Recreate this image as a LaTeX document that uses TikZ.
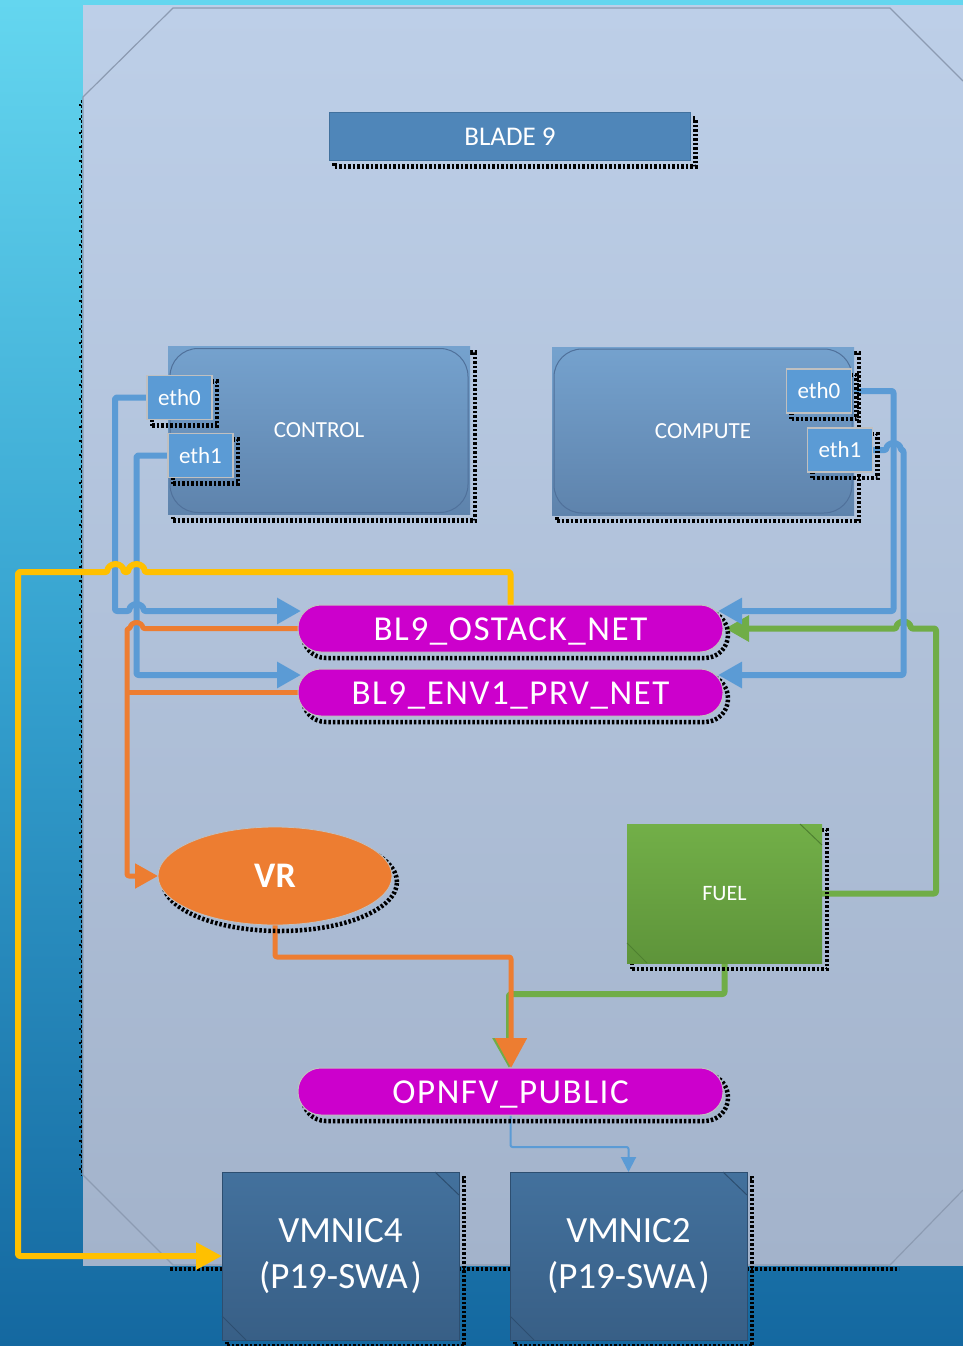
\documentclass[tikz,border=0pt]{standalone}
\usepackage{fontspec}
\setmainfont{Carlito}
\usetikzlibrary{arrows.meta,shadows,shapes.geometric}
\pgfdeclarelayer{bg}
\pgfdeclarelayer{fg}
\pgfsetlayers{bg,main,fg}
\definecolor{skytop}{RGB}{100,214,239}
\definecolor{skymid}{RGB}{52,160,206}
\definecolor{skybot}{RGB}{20,104,160}
\definecolor{paneltop}{RGB}{189,207,232}
\definecolor{panelbot}{RGB}{163,179,203}
\definecolor{panelrim}{RGB}{140,155,178}
\definecolor{bladeblue}{RGB}{79,134,185}
\definecolor{bladerim}{RGB}{65,113,158}
\definecolor{hostA}{RGB}{117,162,206}
\definecolor{hostB}{RGB}{94,131,172}
\definecolor{hostrim}{RGB}{80,113,155}
\definecolor{nicblue}{RGB}{91,155,213}
\definecolor{nicrim}{RGB}{192,192,192}
\definecolor{netmag}{RGB}{204,0,204}
\definecolor{vrorange}{RGB}{237,125,49}
\definecolor{fuelA}{RGB}{114,175,72}
\definecolor{fuelB}{RGB}{94,148,58}
\definecolor{fuelrim}{RGB}{78,128,48}
\definecolor{vmA}{RGB}{67,113,157}
\definecolor{vmB}{RGB}{56,95,134}
\definecolor{vmrim}{RGB}{45,78,112}
\definecolor{linkblue}{RGB}{91,155,213}
\definecolor{linkgreen}{RGB}{112,173,71}
\definecolor{linkyellow}{RGB}{255,192,0}
\tikzset{
  jag/.style={general shadow={shadow xshift=5pt,shadow yshift=-6pt,draw=black,fill=none,line width=4.5pt,dash pattern=on 2.5pt off 2pt}},
  box/.style={inner sep=0pt,outer sep=0pt,text=white,align=center},
  bladebox/.style={box,jag,fill=bladeblue,draw=bladerim,line width=0.8pt,minimum width=361pt,minimum height=48pt,font=\fontsize{27}{30}\selectfont},
  hostbox/.style={box,jag,top color=hostA,bottom color=hostB,minimum width=302pt,minimum height=168pt,font=\fontsize{23}{27}\selectfont},
  hostrimline/.style={draw=hostrim,line width=1pt,rounded corners=28pt},
  nicbox/.style={box,jag,fill=nicblue,draw=nicrim,line width=1.2pt,minimum width=65pt,minimum height=44pt,font=\fontsize{23}{27}\selectfont},
  netbox/.style={box,jag,fill=netmag,draw=nicrim,line width=1pt,rounded corners=23pt,minimum width=425pt,minimum height=47pt,text height=23pt,text depth=0pt,font=\fontsize{35}{40}\selectfont\addfontfeature{LetterSpace=4.5}},
  vrbox/.style={box,jag,ellipse,fill=vrorange,draw=nicrim,line width=0.8pt,minimum width=234pt,minimum height=98pt,font=\fontsize{36}{40}\selectfont\bfseries},
  fuelbox/.style={box,jag,top color=fuelA,bottom color=fuelB,minimum width=195pt,minimum height=139pt,font=\fontsize{22}{26}\selectfont},
  vmbox/.style={box,jag,top color=vmA,bottom color=vmB,draw=vmrim,line width=0.8pt,minimum width=237pt,minimum height=168pt,font=\fontsize{37}{46}\selectfont},
  snip/.style={line width=1pt},
  link/.style={line join=round,rounded corners=2pt},
  bluelink/.style={link,draw=linkblue,line width=6pt},
  orangelink/.style={link,draw=vrorange,line width=5pt},
  greenlink/.style={link,draw=linkgreen,line width=6pt},
  yellowlink/.style={link,draw=linkyellow,line width=6pt},
  thinlink/.style={link,draw=linkblue,line width=2pt},
  tipB/.style={-{Triangle[length=24pt,width=25pt]}},
  tipO/.style={-{Triangle[length=23pt,width=24pt]}},
  tipObig/.style={-{Triangle[length=30pt,width=31pt]}},
  tipGbig/.style={-{Triangle[length=30pt,width=32pt]}},
  tipY/.style={-{Triangle[length=26pt,width=26pt]}},
  tipT/.style={-{Triangle[length=15pt,width=15pt]}},
}
\begin{document}
\begin{tikzpicture}[x=1pt,y=-1pt]
\useasboundingbox (0,0) rectangle (963,1346);
% backdrop and blade panel
\begin{pgfonlayer}{bg}
  \shade[top color=skytop,bottom color=skybot,middle color=skymid] (0,0) rectangle (963,1346);
  \draw[black,line width=1pt,dash pattern=on 3pt off 2pt] (81.5,100) -- (81.5,1176);
  \draw[black,line width=2pt,dash pattern=on 2pt off 12pt] (79.5,104) -- (79.5,1176);
  \draw[black,line width=4pt,dash pattern=on 2.5pt off 2pt] (170,1269) -- (899,1269);
  \shade[top color=paneltop,bottom color=panelbot] (83,6) rectangle (963,1265);
  \draw[panelrim,line width=1.2pt] (963,81) -- (890,8) -- (173,8) -- (83,97) -- (83,1175) -- (173,1265) -- (890,1265) -- (963,1190);
\end{pgfonlayer}
% boxes
\begin{pgfonlayer}{fg}
  \node[bladebox] (blade) at (510,136.5) {BLADE 9};
  \node[hostbox] (control) at (319,430.5) {\raisebox{-2pt}{CONTROL}};
  \draw[hostrimline] ([shift={(2pt,-2pt)}]control.north west) rectangle ([shift={(-2pt,2pt)}]control.south east);
  \node[nicbox] (ceth0) at (179.5,397.5) {eth0};
  \node[nicbox] (ceth1) at (200.5,455.5) {eth1};
  \node[hostbox] (compute) at (703,431) {\raisebox{-2pt}{COMPUTE}};
  \draw[hostrimline] ([shift={(2pt,-2pt)}]compute.north west) rectangle ([shift={(-2pt,2pt)}]compute.south east);
  \node[nicbox] (peth0) at (819,391) {eth0};
  \node[nicbox] (peth1) at (840,450) {eth1};
  \node[netbox] (ostack) at (510.5,628.5) {BL9\_OSTACK\_NET};
  \node[netbox] (env1) at (510.5,692.5) {BL9\_ENV1\_PRV\_NET};
  \node[vrbox] (vr) at (275,876) {VR};
  \node[fuelbox] (fuel) at (724.5,893.5) {\raisebox{-4pt}{FUEL}};
  \draw[snip,draw=fuelrim] ([xshift=-22pt]fuel.north east) -- ([yshift=-21pt]fuel.north east);
  \draw[snip,draw=fuelrim] ([yshift=20pt]fuel.south west) -- ([xshift=20pt]fuel.south west);
  \node[netbox] (opnfv) at (510.5,1091.5) {OPNFV\_PUBLIC};
  \node[vmbox] (vmnic4) at (340.5,1256) {VMNIC4\\(P19-SWA\kern3pt)};
  \draw[snip,draw=vmrim] ([xshift=-24pt]vmnic4.north east) -- ([yshift=-23pt]vmnic4.north east);
  \draw[snip,draw=vmrim] ([yshift=24pt]vmnic4.south west) -- ([xshift=24pt]vmnic4.south west);
  \node[vmbox] (vmnic2) at (628.5,1256) {VMNIC2\\(P19-SWA\kern3pt)};
  \draw[snip,draw=vmrim] ([xshift=-24pt]vmnic2.north east) -- ([yshift=-23pt]vmnic2.north east);
  \draw[snip,draw=vmrim] ([yshift=24pt]vmnic2.south west) -- ([xshift=24pt]vmnic2.south west);
\end{pgfonlayer}
% bend points
\coordinate (obend) at (511,957);
\coordinate (gbend) at (509,994);
\coordinate (pbend) at (628.5,1147);
% green links from FUEL
\draw[greenlink,tipGbig] (fuel.south) |- (gbend) -- (gbend |- opnfv.north);
\draw[greenlink,tipB] (fuel.east) -- (936,893.5) -- (936,628.5) -- (910.5,628.5)
  arc[start angle=0,end angle=180,radius=7pt] -- ([xshift=2pt]ostack.east);
% blue links from the host NICs
\draw[bluelink,tipB] (ceth0.west) -| (115,611) -- (129.5,611)
  arc[start angle=180,end angle=0,radius=7pt] -- ([shift={(3pt,17.5pt)}]ostack.west);
\draw[bluelink,tipB] (ceth1.west) -| (136.5,675) -- ([shift={(3pt,17.5pt)}]env1.west);
\draw[bluelink,tipB] (peth0.east) -| (893.5,611) -- ([shift={(-5pt,17.5pt)}]ostack.east);
\draw[bluelink,tipB] (peth1.east) -- (886.5,450)
  arc[start angle=180,end angle=0,radius=7pt] -- (903.5,450) -- (903.5,675) -- ([shift={(-5pt,17.5pt)}]env1.east);
% orange links through VR
\draw[orangelink,tipO] (ostack.west) -- (142.5,628.5)
  arc[start angle=0,end angle=180,radius=6pt] -- (127,628.5) -- (127,876) -- (vr.west);
\draw[orangelink] (env1.west) -- ++(-171,0);
\draw[orangelink,tipObig] (vr.south) |- (obend) -- (obend |- opnfv.north);
% yellow uplink
\draw[yellowlink,tipY] (ostack.north) -- (510.5,572) -- (144.5,572)
  arc[start angle=0,end angle=180,radius=8pt] -- (123.5,572)
  arc[start angle=0,end angle=180,radius=8pt] -- (18,572) -- (18,1256) -- (vmnic4.west);
% public network to VMNIC2
\draw[thinlink,tipT] (opnfv.south) |- (pbend) -- (vmnic2.north);
\end{tikzpicture}
\end{document}
